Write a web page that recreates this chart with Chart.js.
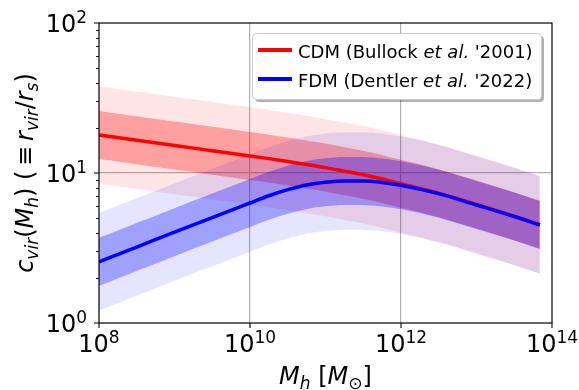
<!DOCTYPE html>
<html><head><meta charset="utf-8">
<script src="https://cdn.jsdelivr.net/npm/chart.js@4/dist/chart.umd.min.js"></script>
<style>html,body{margin:0;padding:0;background:#fff;}canvas{display:block;}</style>
</head><body>
<canvas id="c" width="579" height="390"></canvas>
<script>
// ---- data ----
const massValues   = [1e8, 3.16e8, 1e9, 3.16e9, 1e10, 1.78e10, 3.16e10, 5.62e10, 1e11, 1.78e11, 3.16e11, 5.62e11, 1e12, 3.16e12, 1e13, 3.16e13, 6.9e13];
const cdmMedian    = [17.91, 16.52, 15.24, 14.09, 13.00, 12.47, 11.94, 11.40, 10.86, 10.28, 9.73, 9.12, 8.47, 7.33, 6.17, 5.15, 4.52];
const cdmInnerHigh = [25.89, 23.88, 22.03, 20.37, 18.79, 18.02, 17.26, 16.48, 15.70, 14.86, 14.06, 13.18, 12.24, 10.59, 8.92, 7.44, 6.53];
const cdmInnerLow  = [12.39, 11.43, 10.54, 9.75, 8.99, 8.63, 8.26, 7.89, 7.51, 7.11, 6.73, 6.31, 5.86, 5.07, 4.27, 3.56, 3.13];
const cdmOuterHigh = [37.85, 34.91, 32.21, 29.78, 27.48, 26.36, 25.24, 24.09, 22.95, 21.73, 20.56, 19.28, 17.90, 15.49, 13.04, 10.88, 9.55];
const cdmOuterLow  = [8.47, 7.82, 7.21, 6.67, 6.15, 5.90, 5.65, 5.39, 5.14, 4.86, 4.60, 4.32, 4.01, 3.47, 2.92, 2.44, 2.14];
const fdmMedian    = [2.56, 3.21, 4.03, 5.05, 6.31, 7.05, 7.74, 8.32, 8.67, 8.85, 8.85, 8.65, 8.28, 7.28, 6.12, 5.13, 4.50];
const fdmInnerHigh = [3.70, 4.64, 5.83, 7.30, 9.12, 10.19, 11.19, 12.03, 12.53, 12.79, 12.79, 12.50, 11.97, 10.52, 8.85, 7.41, 6.50];
const fdmInnerLow  = [1.77, 2.22, 2.79, 3.49, 4.37, 4.88, 5.35, 5.76, 6.00, 6.12, 6.12, 5.98, 5.73, 5.04, 4.23, 3.55, 3.11];
const fdmOuterHigh = [5.41, 6.78, 8.52, 10.67, 13.34, 14.90, 16.36, 17.58, 18.32, 18.70, 18.70, 18.28, 17.50, 15.39, 12.93, 10.84, 9.51];
const fdmOuterLow  = [1.21, 1.52, 1.91, 2.39, 2.99, 3.34, 3.66, 3.94, 4.10, 4.19, 4.19, 4.09, 3.92, 3.44, 2.90, 2.43, 2.13];
const seriesLabels = ["CDM (Bullock et al. '2001)", "FDM (Dentler et al. '2022)"];
const xTickValues  = [1e8, 1e10, 1e12, 1e14];
const yTickValues  = [1, 10, 100];
const yMinorTickValues = [2, 3, 4, 5, 6, 7, 8, 9, 20, 30, 40, 50, 60, 70, 80, 90];

// ---- helpers ----
const FAM = '"DejaVu Sans"';
const pts = arr => massValues.map((m, i) => ({x: m, y: arr[i]}));
const seg = (t, size, italic, dy) => ({t, size, italic: !!italic, dy: dy || 0});
const fontOf = s => (s.italic ? 'italic ' : '') + s.size + 'px ' + FAM;
function drawSegs(ctx, segs, x, y, align) {
  let w = 0;
  for (const s of segs) { ctx.font = fontOf(s); w += ctx.measureText(s.t).width; }
  let cx = align === 'center' ? x - w / 2 : align === 'right' ? x - w : x;
  ctx.textAlign = 'left'; ctx.textBaseline = 'alphabetic';
  for (const s of segs) { ctx.font = fontOf(s); ctx.fillText(s.t, cx, y + s.dy); cx += ctx.measureText(s.t).width; }
}
const TICK = 24, SUP = 17;
const powLabel = v => [seg('10', TICK), seg(String(Math.round(Math.log10(v))), SUP, false, -9)];
function labelSegs(label) {
  const i = label.indexOf('et al.');
  if (i < 0) return [seg(label, 18)];
  return [seg(label.slice(0, i), 18), seg('et al.', 18, true), seg(label.slice(i + 6), 18)];
}

const band = (arr, color, order, target) => ({
  label: '', data: pts(arr), borderColor: 'rgba(0,0,0,0)', borderWidth: 0, pointRadius: 0,
  cubicInterpolationMode: 'monotone', order: order,
  fill: target === undefined ? false : target, backgroundColor: color
});

const decor = {
  id: 'decor',
  beforeDraw(chart) {
    const c = chart.ctx; c.save(); c.fillStyle = '#fff'; c.fillRect(0, 0, chart.width, chart.height); c.restore();
  },
  afterDraw(chart) {
    const c = chart.ctx, a = chart.chartArea, xs = chart.scales.x, ys = chart.scales.y;
    c.save();
    // spines
    c.strokeStyle = '#000'; c.lineWidth = 1.2;
    c.strokeRect(a.left, a.top, a.right - a.left, a.bottom - a.top);
    // tick marks
    c.lineWidth = 1.1; c.beginPath();
    for (const v of xTickValues) { const p = xs.getPixelForValue(v); c.moveTo(p, a.bottom); c.lineTo(p, a.bottom + 5); }
    for (const v of yTickValues) { const p = ys.getPixelForValue(v); c.moveTo(a.left, p); c.lineTo(a.left - 5, p); }
    c.stroke();
    c.lineWidth = 0.9; c.beginPath();
    for (const v of yMinorTickValues) { const p = Math.round(ys.getPixelForValue(v)) + 0.5; c.moveTo(a.left, p); c.lineTo(a.left - 3, p); }
    c.stroke();
    // tick labels
    c.fillStyle = '#000';
    for (const v of xTickValues) drawSegs(c, powLabel(v), xs.getPixelForValue(v), a.bottom + 29, 'center');
    for (const v of yTickValues) drawSegs(c, powLabel(v), a.left - 12, ys.getPixelForValue(v) + 8.5, 'right');
    // axis titles
    drawSegs(c, [seg('M', 24, true), seg('h', 17, true, 5), seg(' [', 24), seg('M', 24, true), seg('\u2299', 17, false, 5), seg(']', 24)],
      (a.left + a.right) / 2, 384, 'center');
    c.save(); c.translate(33, (a.top + a.bottom) / 2); c.rotate(-Math.PI / 2);
    drawSegs(c, [seg('c', 24, true), seg('vir', 17, true, 5), seg('(', 24), seg('M', 24, true), seg('h', 17, true, 5), seg(')', 24),
      seg(' (\u2009\u2261\u2009', 24), seg('r', 24, true), seg('vir', 17, true, 5), seg('/', 24), seg('r', 24, true), seg('s', 17, true, 5), seg(')', 24)],
      0, 0, 'center');
    c.restore();
    // legend
    const L = 252, T = 33, W = 289, H = 66, R = 4;
    c.fillStyle = 'rgba(0,0,0,0.3)';
    c.beginPath(); c.roundRect(L + 3, T + 3, W, H, R); c.fill();
    c.fillStyle = '#fff'; c.strokeStyle = '#cccccc'; c.lineWidth = 1;
    c.beginPath(); c.roundRect(L + 0.5, T + 0.5, W, H, R); c.fill(); c.stroke();
    const rows = [{ds: chart.data.datasets[0], y: 50}, {ds: chart.data.datasets[1], y: 79}];
    for (const r of rows) {
      c.strokeStyle = r.ds.borderColor; c.lineWidth = 4; c.lineCap = 'butt';
      c.beginPath(); c.moveTo(258, r.y); c.lineTo(292, r.y); c.stroke();
      c.fillStyle = '#000';
      drawSegs(c, labelSegs(r.ds.label), 298, r.y + 8, 'left');
    }
    c.restore();
  }
};

const gridColor = (lo, hi) => ctx => {
  const v = ctx.tick ? ctx.tick.value : 0;
  return (v > lo * 1.01 && v < hi / 1.01) ? '#b0b0b0' : 'rgba(0,0,0,0)';
};

new Chart(document.getElementById('c'), {
  type: 'line',
  data: {
    datasets: [
      {label: seriesLabels[0], data: pts(cdmMedian), borderColor: '#ff0000', borderWidth: 3.5, pointRadius: 0, fill: false, cubicInterpolationMode: 'monotone', order: 1},
      {label: seriesLabels[1], data: pts(fdmMedian), borderColor: '#0000ff', borderWidth: 3.5, pointRadius: 0, fill: false, cubicInterpolationMode: 'monotone', order: 0},
      band(cdmOuterHigh, 'rgba(255,0,0,0.1)', 5, 3),
      band(cdmOuterLow, 'rgba(0,0,0,0)', 5),
      band(cdmInnerHigh, 'rgba(255,0,0,0.3)', 4, 5),
      band(cdmInnerLow, 'rgba(0,0,0,0)', 4),
      band(fdmOuterHigh, 'rgba(0,0,255,0.1)', 3, 7),
      band(fdmOuterLow, 'rgba(0,0,0,0)', 3),
      band(fdmInnerHigh, 'rgba(0,0,255,0.3)', 2, 9),
      band(fdmInnerLow, 'rgba(0,0,0,0)', 2)
    ]
  },
  options: {
    responsive: false, animation: false, devicePixelRatio: 1, events: [],
    layout: {padding: {top: 23, right: 27, left: 0, bottom: 0}},
    plugins: {legend: {display: false}, tooltip: {enabled: false}, filler: {propagate: false}},
    scales: {
      x: {type: 'logarithmic', min: 1e8, max: 1e14, position: 'bottom',
        ticks: {display: false}, border: {display: false},
        grid: {color: gridColor(1e8, 1e14), lineWidth: 1.2, drawTicks: false},
        afterBuildTicks: s => { s.ticks = xTickValues.map(v => ({value: v})); },
        afterFit: s => { s.height = 67; }},
      y: {type: 'logarithmic', min: 1, max: 100, position: 'left',
        ticks: {display: false}, border: {display: false},
        grid: {color: gridColor(1, 100), lineWidth: 1.2, drawTicks: false},
        afterBuildTicks: s => { s.ticks = yTickValues.map(v => ({value: v})); },
        afterFit: s => { s.width = 99; }}
    }
  },
  plugins: [decor]
});
</script>
</body></html>
